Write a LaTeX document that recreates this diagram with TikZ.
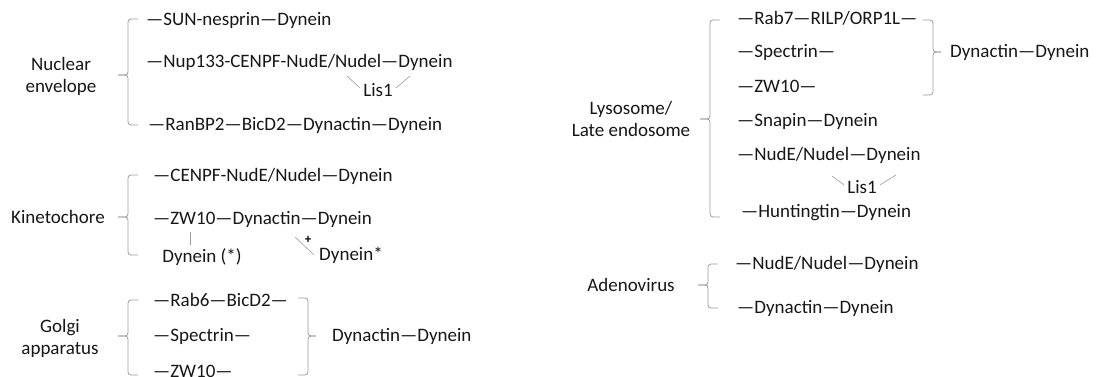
\documentclass[tikz,border=0pt]{standalone}
\usepackage{fontspec}
\setmainfont{Carlito}
\usetikzlibrary{positioning}
\definecolor{ctext}{HTML}{161616}
\definecolor{cline}{HTML}{9C9C9C}
\tikzset{
  every picture/.style={x=1pt, y=-1pt},
  item/.style={anchor=west, inner sep=0pt, font=\fontsize{19}{22}\selectfont, text=ctext},
  group/.style={align=center, inner sep=0pt, font=\fontsize{19}{22}\selectfont, text=ctext},
  lis/.style={inner sep=3pt, font=\fontsize{19}{22}\selectfont, text=ctext},
  brace/.style={draw=cline, line width=0.8pt, rounded corners=3pt},
  link/.style={draw=cline, line width=0.6pt},
}
% left and right braces: #1 x of the spine, #2 top, #3 tip, #4 bottom
\newcommand{\leftbr}[4]{%
  \draw[brace] (#1+10,#2) -- (#1,#2) -- (#1,#3) -- (#1-10,#3);
  \draw[brace] (#1-10,#3) -- (#1,#3) -- (#1,#4) -- (#1+10,#4);}
\newcommand{\rightbr}[4]{%
  \draw[brace] (#1-10,#2) -- (#1,#2) -- (#1,#3) -- (#1+8,#3);
  \draw[brace] (#1+8,#3) -- (#1,#3) -- (#1,#4) -- (#1-10,#4);}

\begin{document}
\begin{tikzpicture}
  \useasboundingbox (0,0) rectangle (1104,377);
  % nuclear envelope
  \node[group] (ne) at (61,76) {Nuclear\\envelope};
  \leftbr{128}{19}{75}{125}
  \node[item] (ne1) at (146,20) {—SUN-nesprin—Dynein};
  \node[item] (ne2) at (146,62) {—Nup133-CENPF-NudE/Nudel—Dynein};
  \node[item] (ne3) at (148,125) {—RanBP2—BicD2—Dynactin—Dynein};
  \node[lis] (nelis) at (378,90) {Lis1};
  \coordinate (nea) at (347,76);
  \coordinate (neb) at (410,76);
  \draw[link] (nea) -- ([yshift=2pt]nelis.west);
  \draw[link] ([yshift=2pt]nelis.east) -- (neb);
  % kinetochore
  \node[group] (kt) at (58,217) {Kinetochore};
  \leftbr{128}{175}{217}{255}
  \node[item] (kt1) at (153,176) {—CENPF-NudE/Nudel—Dynein};
  \node[item] (kt2) at (153,219) {—ZW10—Dynactin—Dynein};
  \node[lis] (kt3) at (202,257) {Dynein (*)};
  \node[lis, inner sep=5pt] (kt4) at (351,255) {Dynein*};
  \coordinate (kta) at (190,232);
  \coordinate (ktb) at (295,237);
  \draw[link] (kta) -- (kta |- kt3.north);
  \draw[link] (ktb) -- (kt4.west);
  \node[inner sep=0pt, font=\bfseries\fontsize{13}{13}\selectfont] (ktx) at (308,240) {+};
  % golgi apparatus
  \node[group] (ga) at (60,338) {Golgi\\apparatus};
  \leftbr{128}{300}{336}{375}
  \node[item] (ga1) at (153,300) {—Rab6—BicD2—};
  \node[item] (ga2) at (153,336) {—Spectrin—};
  \node[item] (ga3) at (153,371) {—ZW10—};
  \rightbr{308}{298}{336}{375}
  \node[item] (ga4) at (332,336) {Dynactin—Dynein};
  % lysosome / late endosome
  \node[group] (ly) at (631,119) {Lysosome/\\Late endosome};
  \leftbr{710}{20}{119}{217}
  \node[item] (ly1) at (737,18) {—Rab7—RILP/ORP1L—};
  \node[item] (ly2) at (737,52) {—Spectrin—};
  \node[item] (ly3) at (737,86) {—ZW10—};
  \node[item] (ly4) at (737,121) {—Snapin—Dynein};
  \node[item] (ly5) at (737,155) {—NudE/Nudel—Dynein};
  \node[lis] (lylis) at (862,187) {Lis1};
  \node[item] (ly6) at (741,213) {—Huntingtin—Dynein};
  \coordinate (lya) at (832,176);
  \coordinate (lyb) at (896,175);
  \draw[link] (lya) -- ([yshift=2pt]lylis.west);
  \draw[link] ([yshift=2pt]lylis.east) -- (lyb);
  \rightbr{933}{20}{52}{95}
  \node[item] (ly7) at (950,52) {Dynactin—Dynein};
  % adenovirus
  \node[group] (ad) at (631,285) {Adenovirus};
  \leftbr{708}{264}{285}{308}
  \node[item] (ad1) at (735,264) {—NudE/Nudel—Dynein};
  \node[item] (ad2) at (737,308) {—Dynactin—Dynein};
\end{tikzpicture}
\end{document}
